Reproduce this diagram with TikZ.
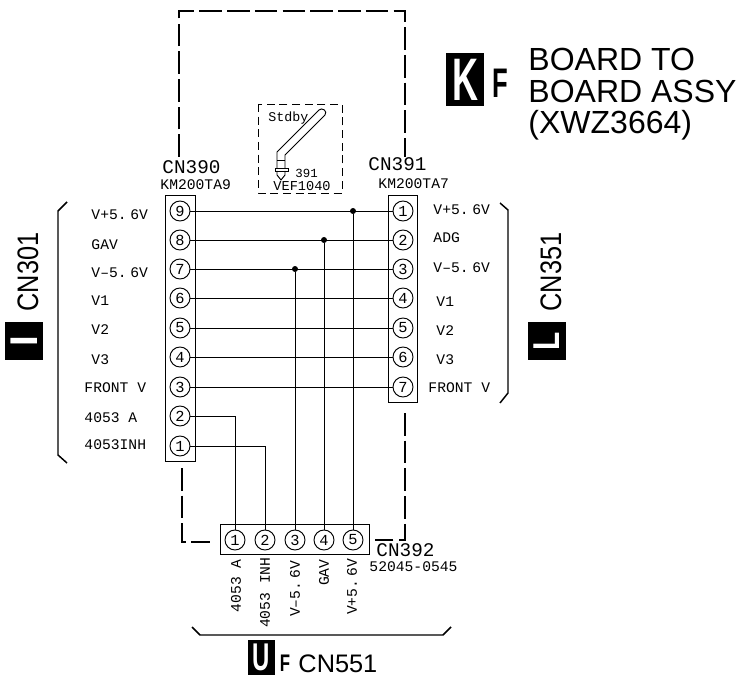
\documentclass[tikz,border=0pt]{standalone}
\usepackage{fontspec}
\setmainfont{Liberation Sans}
\newfontfamily\plotfont{Liberation Mono}
\usetikzlibrary{calc}
\newcommand{\dotgap}{\kern-0.55em}

\begin{document}
\begin{tikzpicture}[x=0.75pt,y=-0.75pt,line width=0.7pt,
    pin/.style={draw,circle,minimum size=15pt,inner sep=0pt,font=\plotfont\fontsize{11.5}{12}\selectfont},
    sig/.style={inner sep=0pt,font=\plotfont\fontsize{11}{12}\selectfont},
    tag/.style={inner sep=0pt,font=\plotfont\fontsize{14.5}{15}\selectfont},
    part/.style={inner sep=0pt,font=\plotfont\fontsize{11}{12}\selectfont},
    head/.style={inner sep=0pt,font=\fontsize{19}{20}\selectfont},
    badge/.style={fill=black,text=white,inner sep=0pt,font=\bfseries},
    junction/.style={circle,fill=black,minimum size=4.5pt,inner sep=0pt},
    board/.style={line width=1.7pt,dash pattern=on 16.9pt off 3.9pt},
    brace/.style={line width=1.1pt}]
  \useasboundingbox (0,0) rectangle (738,677);

  %% Dashed board outline
  \coordinate (TL) at (179,157);
  \coordinate (TR) at (405,157);
  \draw[board] (TL) -- (179,11) -- (405,11) -- (TR);
  \coordinate (BLa) at (182,468);
  \coordinate (BLb) at (210,542);
  \draw[board] (BLa) -- (BLa|-BLb) -- (BLb);
  \coordinate (BRa) at (405,413);
  \coordinate (BRb) at (375,540);
  \draw[board] (BRa) -- (BRa|-BRb) -- (BRb);

  %% Connector bodies
  \draw (165,195) rectangle (195,461);
  \draw (388,195) rectangle (417,402);
  \draw (220,524) rectangle (369,554);

  %% Pins
  \foreach \n/\y in {9/211,8/240,7/269,6/298,5/328,4/357,3/387,2/416,1/446}
    \node[pin] (L\n) at (180,\y) {\n};
  \foreach \n/\y in {1/211,2/240,3/269,4/298,5/328,6/357,7/387}
    \node[pin] (R\n) at (403,\y) {\n};
  \foreach \n/\x in {1/235,2/265,3/295,4/324,5/353}
    \node[pin] (B\n) at (\x,540) {\n};

  %% Wires between connectors
  \foreach \a/\b in {9/1,8/2,7/3,6/4,5/5,4/6,3/7}
    \draw (L\a) -- (R\b);
  \draw (L2) -| (B1);
  \draw (L1) -| (B2);
  \foreach \a/\b in {3/7,4/8,5/9}
  {
    \node[junction] (J\a) at (B\a|-L\b) {};
    \draw (B\a) -- (J\a);
  }

  %% Signal names
  \foreach \x/\y/\txt in {91/215/V+5.\dotgap{} 6V,91/245/GAV,91/273/V–5.\dotgap{} 6V,91/301/V1,91/330/V2,91/360/V3,
      84/388/FRONT V,84/418/4053 A,84/445/4053INH,
      433/210/V+5.\dotgap{} 6V,433/238/ADG,433/268/V–5.\dotgap{} 6V,436/302/V1,436/331/V2,436/360/V3,428/388/FRONT V}
    \node[sig,anchor=west] (S\x-\y) at (\x,\y) {\txt};
  \foreach \x/\y/\txt in {236/559/4053 A,265/557/4053 INH,295/560/V–5.\dotgap{} 6V,324/559/GAV,352/558/V+5.\dotgap{} 6V}
    \node[sig,rotate=90,anchor=east] (P\x) at (\x,\y) {\txt};

  %% Connector names
  \node[tag,anchor=west] (CN390) at (162,167) {CN390};
  \node[part,anchor=west] (KM9) at (160,185) {KM200TA9};
  \node[tag,anchor=west] (CN391) at (368,164) {CN391};
  \node[part,anchor=west] (KM7) at (378,184) {KM200TA7};
  \node[tag,anchor=west] (CN392) at (376,550) {CN392};
  \node[part,anchor=west] (PN392) at (369,567) {52045-0545};

  %% Standby switch
  \draw[dash pattern=on 6pt off 3.5pt] (258,104) rectangle (342,193);
  \node[sig,anchor=west,font=\plotfont\fontsize{10}{10}\selectfont] (STDBY) at (268,118) {Stdby};
  \node[sig,anchor=west,font=\plotfont\fontsize{9.3}{10}\selectfont] (S391) at (295,173) {391};
  \node[sig,anchor=west,font=\plotfont\fontsize{10.2}{10}\selectfont] (VEF) at (273,186) {VEF1040};
  \draw (277,168) -- (277,152) -- (319,110) .. controls (322,107) and (328,111) .. (325,115)
    -- (285,155) -- (285,168);
  \draw (277,160) -- (285,160);
  \draw (275,168) rectangle (288,171);
  \draw (277,171) -- (277,175) -- (281,180) -- (285,175) -- (285,171);

  %% Brackets
  \draw[brace] (67,202) -- (58,211) -- (58,455) -- (67,463);
  \draw[brace] (500,203) -- (508,210) -- (508,393) -- (500,403);
  \draw[brace] (192,627) -- (200,635) -- (443,635) -- (451,627);

  %% Board references
  \node[badge,minimum width=28.5pt,minimum height=39.75pt] (KBOX) at (465,79.5)
    {\fontsize{45}{45}\selectfont\scalebox{0.6}[1]{K}};
  \node[inner sep=0pt,font=\bfseries\fontsize{31}{31}\selectfont] (KF) at (500,83.5) {\scalebox{0.62}[1]{F}};
  \node[inner sep=0pt,anchor=north west,align=left,font=\fontsize{24}{23.6}\selectfont] (BOARD) at (528,48)
    {BOARD TO\\BOARD ASSY\\(XWZ3664)};

  \node[badge,rotate=90,minimum width=28.5pt,minimum height=28.5pt,font=\bfseries\fontsize{29}{29}\selectfont] (IBOX) at (24,341) {I};
  \node[head,rotate=90,anchor=west] (CN301) at (28,312) {\scalebox{1}[1.17]{CN301}};
  \node[badge,rotate=90,minimum width=28.5pt,minimum height=28.5pt,font=\bfseries\fontsize{28}{28}\selectfont] (LBOX) at (546.5,341) {\scalebox{0.8}[1]{L}};
  \node[head,rotate=90,anchor=west] (CN351) at (551,312) {\scalebox{1}[1.17]{CN351}};

  \node[badge,minimum width=20.25pt,minimum height=26.25pt] (UBOX) at (261.5,657.5)
    {\fontsize{29}{29}\selectfont\scalebox{0.62}[1]{U}};
  \node[inner sep=0pt,font=\bfseries\fontsize{18}{18}\selectfont] (UF) at (285,663) {\scalebox{0.7}[1]{F}};
  \node[head,anchor=west] (CN551) at (298,664) {CN551};
\end{tikzpicture}
\end{document}
